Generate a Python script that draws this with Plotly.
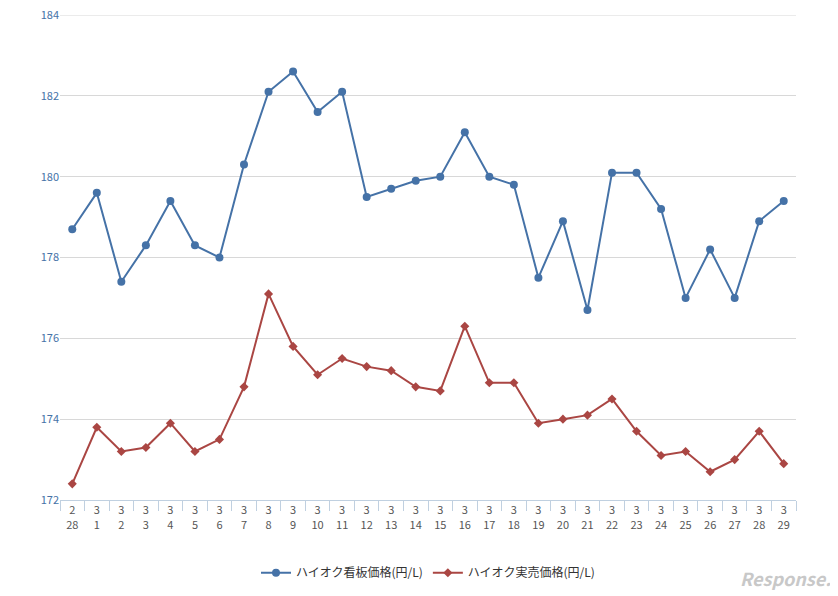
import plotly.graph_objects as go

months = ["2"] + ["3"] * 29
days = ["28"] + [str(d) for d in range(1, 30)]
categories = [f"{m}<br>{d}" for m, d in zip(months, days)]

signboard_price = [178.7, 179.6, 177.4, 178.3, 179.4, 178.3, 178.0, 180.3, 182.1, 182.6,
                   181.6, 182.1, 179.5, 179.7, 179.9, 180.0, 181.1, 180.0, 179.8, 177.5,
                   178.9, 176.7, 180.1, 180.1, 179.2, 177.0, 178.2, 177.0, 178.9, 179.4]
actual_price = [172.4, 173.8, 173.2, 173.3, 173.9, 173.2, 173.5, 174.8, 177.1, 175.8,
                175.1, 175.5, 175.3, 175.2, 174.8, 174.7, 176.3, 174.9, 174.9, 173.9,
                174.0, 174.1, 174.5, 173.7, 173.1, 173.2, 172.7, 173.0, 173.7, 172.9]

fig = go.Figure()
fig.add_trace(go.Scatter(
    x=categories, y=signboard_price, name="ハイオク看板価格(円/L)",
    mode="lines+markers", line=dict(color="#4572a7", width=2),
    marker=dict(symbol="circle", size=8, color="#4572a7"),
))
fig.add_trace(go.Scatter(
    x=categories, y=actual_price, name="ハイオク実売価格(円/L)",
    mode="lines+markers", line=dict(color="#aa4643", width=2),
    marker=dict(symbol="diamond", size=7, color="#aa4643"),
))

# top gridline at 184 (plotly drops the gridline on the range edge)
fig.add_shape(type="line", xref="paper", yref="y", x0=0, x1=1, y0=184, y1=184,
              line=dict(color="#d8d8d8", width=1))

fig.update_layout(
    width=838, height=596,
    paper_bgcolor="white", plot_bgcolor="white",
    margin=dict(l=52, r=50, t=7, b=104, autoexpand=False),
    font=dict(family="Noto Sans CJK JP, DejaVu Sans", size=11, color="#333"),
    showlegend=True,
    legend=dict(orientation="h", x=0.5, xanchor="center", y=-0.12, yanchor="top",
                font=dict(size=12, color="#333")),
    xaxis=dict(type="category", range=[-0.5, 29.5], automargin=False,
               showgrid=False, showline=True, linecolor="#c0d0e0",
               ticks="outside", ticklen=10, tickcolor="#c0d0e0",
               tickson="boundaries", tickfont=dict(size=11, color="#555")),
    yaxis=dict(range=[172, 184], tickvals=[172, 174, 176, 178, 180, 182, 184],
               automargin=False, showgrid=True, ticklabeloverflow="allow",
               gridcolor="#d8d8d8", zeroline=False,
               tickfont=dict(size=11, color="#4572a7")),
    annotations=[dict(text="<i><b>Response.</b></i>", x=1.05, y=-0.16, xref="paper",
                      yref="paper", xanchor="right", yanchor="middle", showarrow=False,
                      font=dict(size=18, color="#c8c8c8"))],
)

fig.write_html("out.html")
